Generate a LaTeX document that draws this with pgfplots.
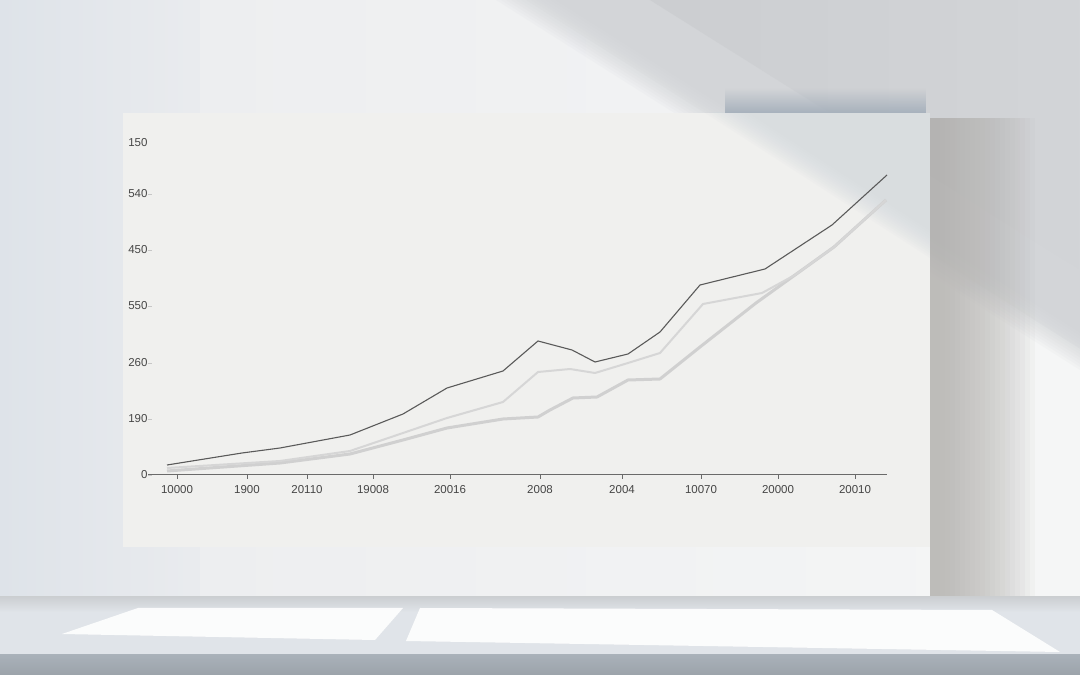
\documentclass[border=0pt]{standalone}
\usepackage{fontspec}
\setmainfont{Liberation Sans}
\usepackage{pgfplots}
\pgfplotsset{compat=1.18}
\usetikzlibrary{fadings}

\definecolor{wallL}{HTML}{DEE3E9}
\definecolor{wall}{HTML}{EDEEF0}
\definecolor{wallB}{HTML}{F5F6F6}
\definecolor{shadowW}{HTML}{CCCFD2}
\definecolor{shadowR}{HTML}{B3B1AE}
\definecolor{board}{HTML}{F0F0EE}
\definecolor{boardSh}{HTML}{D3D9DD}
\definecolor{bandC}{HTML}{A7B1BC}
\definecolor{shelfTop}{HTML}{E0E4E9}
\definecolor{shelfFront}{HTML}{A9B1B9}
\definecolor{axisC}{HTML}{6A6A6A}
\definecolor{lblC}{HTML}{464646}
\definecolor{darkL}{HTML}{5A5A5A}
\definecolor{midL}{HTML}{D6D6D6}
\definecolor{lowL}{HTML}{D0D0D0}

\tikzfading[name=fadeR, left color=transparent!0, right color=transparent!100]
\tikzfading[name=fadeUp, top color=transparent!100, bottom color=transparent!0]

\begin{document}
\begin{tikzpicture}
\useasboundingbox (0,0) rectangle (1080pt,675pt);
% scene, pixel coordinates with y pointing down
\begin{scope}[yshift=675pt,x=1pt,y=-1pt]
  \fill[wall] (0,0) rectangle (1080,605);
  \shade[left color=wallL,right color=wall] (0,0) rectangle (260,605);
  \shade[left color=wall,right color=wallB] (200,0) -- (526,0) -- (1080,349) -- (1080,605) -- (200,605) -- cycle;
  % diagonal shadow on the wall, soft edge
  \foreach \d in {0,5,...,60} {
    \fill[shadowW,opacity=0.09] (496+\d,0) -- (1080,370-\d*0.63) -- (1080,0) -- cycle;
  }
  \fill[shadowW!90!black,opacity=0.25,path fading=fadeR] (650,0) -- (1080,270) -- (1080,0) -- cycle;
  % shadow right of the board
  \foreach \i in {0,...,19} {
    \fill[shadowR,opacity=0.07] (930,118) rectangle (1035-5*\i,602);
  }
  % shadow above the board top
  \fill[bandC,path fading=fadeUp] (725,88) rectangle (926,113);
  % board
  \fill[board] (123,113) rectangle (930,547);
  \foreach \d in {0,4,...,44} {
    \fill[boardSh,opacity=0.09] (705+\d,113) -- (930,113) -- (930,258-\d*0.63) -- cycle;
  }
  % shelf
  \fill[shelfTop] (0,602) rectangle (1080,655);
  \shade[top color=shadowW,bottom color=shelfTop] (0,597) rectangle (1080,612);
  \fill[white,opacity=0.9] (138,608) -- (403,608) -- (375,640) -- (62,634) -- cycle;
  \fill[white,opacity=0.9] (420,608) -- (992,610) -- (1060,652) -- (406,641) -- cycle;
  \shade[top color=shelfFront,bottom color=shelfFront!92!black] (0,655) rectangle (1080,675);
\end{scope}

\begin{axis}[
  at={(148pt,200pt)}, anchor=south west,
  scale only axis,
  width=739pt, height=335pt,
  xmin=148, xmax=887, ymin=0, ymax=335,
  clip=false,
  axis x line=bottom, axis y line=left,
  x axis line style={axisC,line width=1pt,-},
  y axis line style={draw=none},
  xtick={177,247,307,373,450,540,622,701,778,855},
  xticklabels={10000,1900,20110,19008,20016,2008,2004,10070,20000,20010},
  ytick={0,56,112,169,225,281},
  yticklabels={0,190,260,550,450,540},
  extra y ticks={332},
  extra y tick labels={150},
  extra y tick style={major tick length=0pt},
  x tick style={axisC,line width=0.8pt},
  y tick style={lblC!30,line width=0.8pt},
  xtick align=outside, ytick align=inside,
  major tick length=4pt,
  ticklabel style={font=\fontsize{11.5}{13}\selectfont, text=lblC},
  xticklabel style={yshift=-3pt},
  yticklabel style={xshift=3pt},
]
\addplot[lowL,line width=3pt,line join=round] coordinates {
  (167,4) (280,12) (350,21) (403,35) (447,47) (503,56) (538,58) (550,65)
  (573,77) (597,78) (628,95) (660,96) (700,128) (756,172) (795,200)
  (834,228) (886,275)};
\addplot[midL,line width=2pt,line join=round] coordinates {
  (167,7) (280,14) (350,24) (403,42) (447,57) (503,73) (538,103) (570,106)
  (595,102) (628,112) (660,122) (703,171) (762,182) (795,200) (834,228)
  (886,275)};
\addplot[darkL,line width=1.1pt,line join=round] coordinates {
  (167,10) (242,22) (280,27) (350,40) (403,61) (447,87) (503,104) (538,134)
  (572,125) (595,113) (628,121) (660,143) (700,190) (765,206) (832,250)
  (887,300)};
\end{axis}
\end{tikzpicture}
\end{document}
